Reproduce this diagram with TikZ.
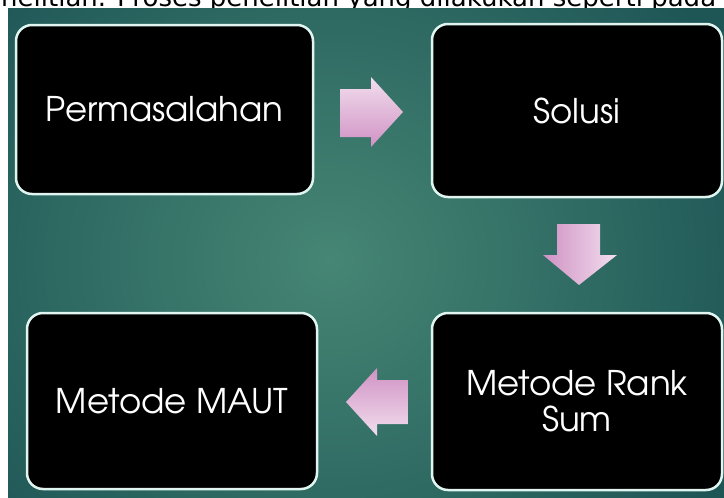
\documentclass[tikz,border=0pt]{standalone}
\usepackage{fontspec}
\setmainfont{DejaVu Sans}
\newfontfamily\boxfont{TeX Gyre Adventor}
\definecolor{tealin}{RGB}{70,134,116}
\definecolor{tealout}{RGB}{30,86,86}
\definecolor{boxline}{RGB}{224,244,240}
\definecolor{pinklight}{RGB}{242,222,238}
\definecolor{pinkdark}{RGB}{208,146,196}
\tikzset{
  stepbox/.style={draw=boxline, line width=2.5pt, fill=black, rounded corners=16pt,
    text=white, font=\boxfont\fontsize{34}{36}\selectfont, align=center, inner sep=0pt},
  captext/.style={anchor=base west, inner sep=0pt, font=\fontsize{26}{30}\selectfont, text=black}
}
\begin{document}
\begin{tikzpicture}[x=1pt, y=-1pt]
\useasboundingbox (0,0) rectangle (724,498);
\fill[white] (0,0) rectangle (724,498);
\node[captext] (cap) at (1,6) {nelitian. Proses penelitian yang dilakukan seperti pada};
\begin{scope}
  \clip (8,8) rectangle (724,498);
  \shade[inner color=tealin, outer color=tealout] (-120,-150) rectangle (780,670);
\end{scope}
% boxes
\node[stepbox, minimum width=297pt, minimum height=169pt] (b1) at (164.5,109.5) {Permasalahan};
\node[stepbox, minimum width=290pt, minimum height=173pt] (b2) at (577,110.5) {Solusi};
\node[stepbox, minimum width=290pt, minimum height=177pt] (b3) at (577,401.5) {Metode Rank\\Sum};
\node[stepbox, minimum width=290pt, minimum height=176pt] (b4) at (172,401) {Metode MAUT};
% block arrows
\shade[top color=pinklight, bottom color=pinkdark]
  (340,89) -- (371,89) -- (371,77) -- (403,112) -- (371,147) -- (371,137) -- (340,137) -- cycle;
\shade[left color=pinkdark, right color=pinklight]
  (557,224) -- (600,224) -- (600,255) -- (617,255) -- (579,285) -- (543,255) -- (557,255) -- cycle;
\shade[top color=pinkdark, bottom color=pinklight]
  (408,380) -- (377,380) -- (377,368) -- (346,402) -- (377,436) -- (377,424) -- (408,424) -- cycle;
\end{tikzpicture}
\end{document}
